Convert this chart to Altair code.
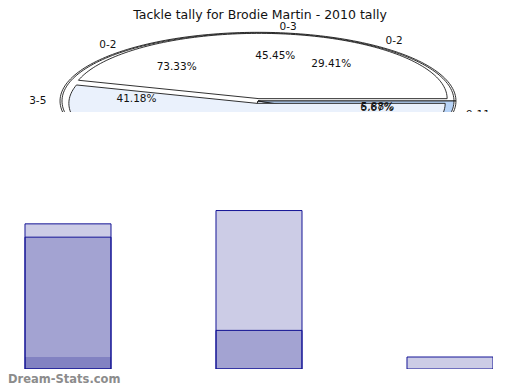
import altair as alt
import numpy as np
import pandas as pd

TITLE = "Tackle tally for Brodie Martin - 2010 tally"
FOOTER = "Dream-Stats.com"

# ---- pie data (drawn bottom to top) ----
pie_a_labels = ["0-2", "3-5", "6-8", "9-11"]
pie_a_counts = [5, 7, 4, 1]
pie_b_labels = ["0-2", "3-5", "6-8"]
pie_b_counts = [11, 3, 1]
pie_c_labels = ["0-3", "4-7"]
pie_c_counts = [5, 6]

# ---- bar data (overlaid series) ----
bar_categories = ["0-2", "3-5", "6-8"]
bar_series_1 = [11, 3, 1]
bar_series_2 = [10, 12, 0]
bar_series_3 = [1, 0, 0]

# ---- styles ----
WHITE, LIGHT, MID = "#ffffff", "#eaf1fc", "#b7d3f7"
PIES = [
    ("a", pie_a_labels, pie_a_counts, 1.01, 0.0, [WHITE, WHITE, MID, WHITE]),
    ("b", pie_b_labels, pie_b_counts, 1.0, 0.0, [WHITE, LIGHT, MID]),
    ("c", pie_c_labels, pie_c_counts, 0.96, 0.035, [WHITE, LIGHT]),
]

poly_frames, pct_rows, out_rows = [], [], []
for name, labels, counts, r, explode, colors in PIES:
    total = sum(counts)
    cum = 0
    rows = []
    for k, (lab, c) in enumerate(zip(labels, counts)):
        a0 = 360.0 * cum / total
        a1 = 360.0 * (cum + c) / total
        cum += c
        m = np.radians((a0 + a1) / 2)
        ox, oy = explode * np.cos(m), explode * np.sin(m)
        n = max(2, int(np.ceil((a1 - a0) / 1.5)) + 1)
        angs = np.radians(np.linspace(a0, a1, n))
        pts = [(ox, oy)] + [(ox + r * np.cos(a), oy + r * np.sin(a)) for a in angs] + [(ox, oy)]
        for i, (x, y) in enumerate(pts):
            rows.append(dict(sid=f"{name}-{k}", i=i, x=x, y=y, fill=colors[k]))
        pct_rows.append(dict(x=0.62 * np.cos(m), y=0.64 * np.sin(m), t=f"{100.0 * c / total:.2f}%"))
        cm = np.cos(m)
        side = "left" if cm > 0.3 else ("right" if cm < -0.3 else "center")
        out_rows.append(dict(x=1.08 * cm, y=1.10 * np.sin(m), t=lab, side=side))
    poly_frames.append((name, pd.DataFrame(rows)))

pct_df = pd.DataFrame(pct_rows)
out_df = pd.DataFrame(out_rows)

PW, PH = 504, 104
xs = alt.Scale(domain=[-1.2755, 1.2959], nice=False, zero=False)
ys = alt.Scale(domain=[-0.1618, 1.3676], nice=False, zero=False)
X = alt.X("x:Q", scale=xs, axis=None)
Y = alt.Y("y:Q", scale=ys, axis=None)

layers = []
for name, df in poly_frames:
    layers.append(
        alt.Chart(df).mark_line(stroke="#1a1a1a", strokeWidth=0.9, clip=True).encode(
            x=X, y=Y, detail="sid:N", order="i:Q", fill=alt.Fill("fill:N", scale=None)
        )
    )

font = "DejaVu Sans"
# labels that fall wholly below the visible strip of the pie are hidden in the reference
layers.append(
    alt.Chart(pct_df).transform_filter(alt.datum.y > -0.3)
    .mark_text(font=font, fontSize=10.5, color="#111", dy=-2, clip=True)
    .encode(x=X, y=Y, text="t:N")
)
for side in ["left", "right", "center"]:
    layers.append(
        alt.Chart(out_df).transform_filter((alt.datum.side == side) & (alt.datum.y > -0.3))
        .mark_text(font=font, fontSize=10.5, color="#111", align=side, clip=True)
        .encode(x=X, y=Y, text="t:N")
    )
layers.append(
    alt.Chart(pd.DataFrame({"t": [TITLE]})).mark_text(
        font=font, fontSize=12.5, color="#111", baseline="middle"
    ).encode(x=alt.value(252), y=alt.value(6.5), text="t:N")
)
pie = alt.layer(*layers).properties(width=PW, height=PH)

# ---- bars ----
bar_rows = []
for sname, vals, stroke in [("s1", bar_series_1, "#141496"), ("s2", bar_series_2, "#141496"), ("s3", bar_series_3, "transparent")]:
    for cat, v in zip(bar_categories, vals):
        bar_rows.append(dict(cat=cat, series=sname, v=v, stroke=stroke))
bar_df = pd.DataFrame(bar_rows)

BW, BH = 485, 257
bars = alt.Chart(bar_df).transform_filter(alt.datum.v > 0).mark_bar(
    fill="#000080", fillOpacity=0.2, strokeWidth=1, clip=True
).encode(
    x=alt.X("cat:N", sort=bar_categories, axis=None,
            scale=alt.Scale(range=[-35.5, 537.5], paddingInner=0.5497, paddingOuter=0.27485)),
    y=alt.Y("v:Q", axis=None, stack=None, scale=alt.Scale(domain=[0.1, 19.4], nice=False, zero=False)),
    stroke=alt.Stroke("stroke:N", scale=None),
    detail="series:N",
)
footer = alt.Chart(pd.DataFrame({"t": [FOOTER]})).mark_text(
    font=font, fontSize=11.5, fontWeight="bold", color="#8c8c8c", align="left", baseline="middle"
).encode(x=alt.value(0), y=alt.value(BH + 11), text="t:N")
bar_panel = alt.layer(bars, footer).properties(width=BW, height=BH)

chart = alt.vconcat(pie, bar_panel, spacing=0).properties(padding=0).configure_view(stroke=None)
chart.save("out.html", embed_options={"renderer": "svg", "actions": False})
